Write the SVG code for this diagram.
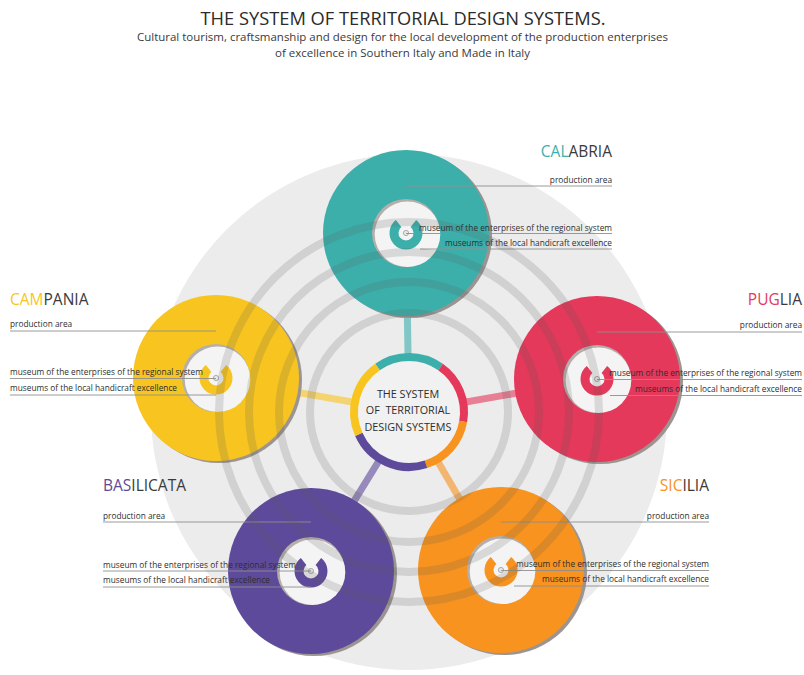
<svg xmlns="http://www.w3.org/2000/svg" width="804" height="675" viewBox="0 0 804 675">
  <style>
    text { font-family: "Open Sans", "Noto Sans", "Liberation Sans", sans-serif; fill: #363636; }
    .title { font-size: 18.5px; fill: #2b2b2b; }
    .sub { font-size: 11.5px; fill: #3a3a3a; }
    .region { font-size: 15.5px; fill: #3a3a3a; }
    .lbl { font-size: 8.3px; fill: #2e2e2e; }
    .core { font-size: 10.8px; fill: #2e2e2e; }
    .leader { stroke: #8f8f8f; stroke-width: 0.9; fill: none; }
    .shadow { fill: #9c9490; }
    .rim { fill: #b5afab; }
    .hole { fill: #f4f4f4; }
    .cmark { fill: none; stroke-width: 9; }
    .pin { fill: #e8e8e8; stroke: #9a9a9a; stroke-width: 0.8; }
    .spoke { stroke-width: 7; stroke-opacity: 0.6; }
    .seg { fill: none; stroke-width: 8; }
    .orbit { fill: none; stroke: #5a5a5a; stroke-opacity: 0.18; stroke-width: 8; }
  </style>
  <defs>
    <!-- C-shaped museum mark, open at the top -->
    <path id="cmark" d="M7.39,-9.46 A12,12 0 1 1 -7.39,-9.46"/>
  </defs>

  <!-- heading -->
  <g id="heading">
    <text class="title" x="403" y="25" text-anchor="middle" textLength="405" lengthAdjust="spacingAndGlyphs">THE SYSTEM OF TERRITORIAL DESIGN SYSTEMS.</text>
    <text class="sub" x="402.5" y="41" text-anchor="middle" textLength="531" lengthAdjust="spacingAndGlyphs">Cultural tourism, craftsmanship and design for the local development of the production enterprises</text>
    <text class="sub" x="402.5" y="56.5" text-anchor="middle" textLength="255" lengthAdjust="spacingAndGlyphs">of excellence in Southern Italy and Made in Italy</text>
  </g>

  <!-- backdrop disc -->
  <circle id="backdrop" cx="409" cy="412" r="258" fill="#ececec"/>

  <!-- connectors: spokes from the hub to each regional system -->
  <g id="connectors" class="spoke">
    <line x1="409" y1="412" x2="406" y2="233" stroke="#3cafab"/>
    <line x1="409" y1="412" x2="597" y2="379" stroke="#e4395a"/>
    <line x1="409" y1="412" x2="216" y2="378" stroke="#f8c520"/>
    <line x1="409" y1="412" x2="311" y2="571" stroke="#5e4a9b"/>
    <line x1="409" y1="412" x2="501" y2="570" stroke="#f7931e"/>
  </g>

  <!-- hub -->
  <g id="hub">
    <circle cx="409" cy="412" r="52" fill="#f1f1f1"/>
    <path class="seg" stroke="#3cafab" d="M377.45,366.94 A55,55 0 0 1 440.55,366.94"/>
    <path class="seg" stroke="#e4395a" d="M440.55,366.94 A55,55 0 0 1 463.16,421.55"/>
    <path class="seg" stroke="#f7931e" d="M463.16,421.55 A55,55 0 0 1 425.99,464.31"/>
    <path class="seg" stroke="#5e4a9b" d="M425.99,464.31 A55,55 0 0 1 358.76,434.37"/>
    <path class="seg" stroke="#f8c520" d="M358.76,434.37 A55,55 0 0 1 377.45,366.94"/>
    <text class="core" x="408" y="398" text-anchor="middle">THE SYSTEM</text>
    <text class="core" x="408" y="414" text-anchor="middle" style="white-space:pre">OF  TERRITORIAL</text>
    <text class="core" x="408" y="431" text-anchor="middle">DESIGN SYSTEMS</text>
  </g>

  <!-- Calabria -->
  <g id="calabria">
    <g transform="translate(406,233)">
      <circle class="shadow" cx="3" cy="2" r="83"/>
      <circle r="83" fill="#3cafab"/>
      <circle class="rim" r="34"/>
      <circle class="hole" cx="1.5" cy="1.2" r="32.8"/>
      <use href="#cmark" class="cmark" stroke="#3cafab"/>
      <circle class="pin" r="2.6"/>
    </g>
    <path class="leader" d="M406,186 H612 M406,233.5 H612 M420,249 H612"/>
    <text class="region" x="612" y="157" text-anchor="end"><tspan fill="#3cafab">CAL</tspan>ABRIA</text>
    <text class="lbl" x="612" y="182.5" text-anchor="end">production area</text>
    <text class="lbl" x="612" y="230.5" text-anchor="end">museum of the enterprises of the regional system</text>
    <text class="lbl" x="612" y="245.5" text-anchor="end">museums of the local handicraft excellence</text>
  </g>

  <!-- Puglia -->
  <g id="puglia">
    <g transform="translate(597,379)">
      <circle class="shadow" cx="3" cy="2" r="83"/>
      <circle r="83" fill="#e4395a"/>
      <circle class="rim" r="34"/>
      <circle class="hole" cx="1.5" cy="1.2" r="32.8"/>
      <use href="#cmark" class="cmark" stroke="#e4395a"/>
      <circle class="pin" r="2.6"/>
    </g>
    <path class="leader" d="M597,332 H802 M597,379.5 H802 M610,395.5 H802"/>
    <text class="region" x="802" y="305" text-anchor="end"><tspan fill="#e4395a">PUG</tspan>LIA</text>
    <text class="lbl" x="802" y="328" text-anchor="end">production area</text>
    <text class="lbl" x="802" y="376" text-anchor="end">museum of the enterprises of the regional system</text>
    <text class="lbl" x="802" y="391.5" text-anchor="end">museums of the local handicraft excellence</text>
  </g>

  <!-- Campania -->
  <g id="campania">
    <g transform="translate(216,378)">
      <circle class="shadow" cx="3" cy="2" r="83"/>
      <circle r="83" fill="#f8c520"/>
      <circle class="rim" r="34"/>
      <circle class="hole" cx="1.5" cy="1.2" r="32.8"/>
      <use href="#cmark" class="cmark" stroke="#f8c520"/>
      <circle class="pin" r="2.6"/>
    </g>
    <path class="leader" d="M10,331 H216 M10,378.5 H216 M10,395 H216"/>
    <text class="region" x="10" y="305"><tspan fill="#f8c520">CAM</tspan>PANIA</text>
    <text class="lbl" x="10" y="327">production area</text>
    <text class="lbl" x="10" y="375">museum of the enterprises of the regional system</text>
    <text class="lbl" x="10" y="391">museums of the local handicraft excellence</text>
  </g>

  <!-- Basilicata -->
  <g id="basilicata">
    <g transform="translate(311,571)">
      <circle class="shadow" cx="3" cy="2" r="83"/>
      <circle r="83" fill="#5e4a9b"/>
      <circle class="rim" r="34"/>
      <circle class="hole" cx="1.5" cy="1.2" r="32.8"/>
      <use href="#cmark" class="cmark" stroke="#5e4a9b"/>
      <circle class="pin" r="2.6"/>
    </g>
    <path class="leader" d="M103,522 H311 M103,571 H311 M103,587 H311"/>
    <text class="region" x="103" y="491"><tspan fill="#5e4a9b">BAS</tspan>ILICATA</text>
    <text class="lbl" x="103" y="518.5">production area</text>
    <text class="lbl" x="103" y="567.5">museum of the enterprises of the regional system</text>
    <text class="lbl" x="103" y="583">museums of the local handicraft excellence</text>
  </g>

  <!-- Sicilia -->
  <g id="sicilia">
    <g transform="translate(501,570)">
      <circle class="shadow" cx="3" cy="2" r="83"/>
      <circle r="83" fill="#f7931e"/>
      <circle class="rim" r="34"/>
      <circle class="hole" cx="1.5" cy="1.2" r="32.8"/>
      <use href="#cmark" class="cmark" stroke="#f7931e"/>
      <circle class="pin" r="2.6"/>
    </g>
    <path class="leader" d="M501,522 H709 M501,570.5 H709 M514,586 H709"/>
    <text class="region" x="709" y="491" text-anchor="end"><tspan fill="#f7931e">SIC</tspan>ILIA</text>
    <text class="lbl" x="709" y="518.5" text-anchor="end">production area</text>
    <text class="lbl" x="709" y="567" text-anchor="end">museum of the enterprises of the regional system</text>
    <text class="lbl" x="709" y="582" text-anchor="end">museums of the local handicraft excellence</text>
  </g>

  <!-- translucent orbit rings laid over the whole system -->
  <g id="orbits" class="orbit">
    <circle cx="409" cy="412" r="99"/>
    <circle cx="409" cy="412" r="130"/>
    <circle cx="409" cy="412" r="160"/>
    <circle cx="409" cy="412" r="190"/>
  </g>
</svg>
